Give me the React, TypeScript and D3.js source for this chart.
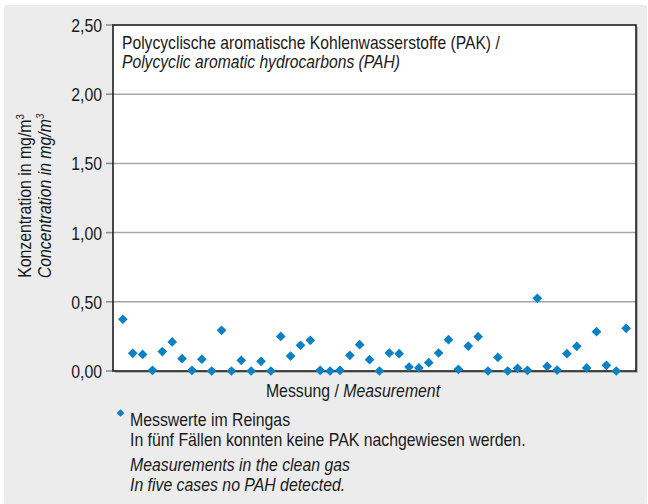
import React from "react";
import * as d3 from "d3";

const measurementValues: number[] = [
  0.374, 0.128, 0.12, 0.005, 0.14, 0.21, 0.089, 0.005, 0.085, 0.0, 0.294, 0.0, 0.077,
  0.0, 0.07, 0.0, 0.25, 0.108, 0.186, 0.222, 0.005, 0.0, 0.005, 0.113, 0.19, 0.082,
  0.0, 0.13, 0.125, 0.029, 0.022, 0.06, 0.13, 0.226, 0.012, 0.18, 0.248, 0.0, 0.099,
  0.0, 0.019, 0.005, 0.525, 0.034, 0.007, 0.125, 0.178, 0.022, 0.284, 0.041, 0.0, 0.308,
];
const yTicks: number[] = [0, 0.5, 1.0, 1.5, 2.0, 2.5];
const titleLines: string[] = [
  "Polycyclische aromatische Kohlenwasserstoffe (PAK) /",
  "Polycyclic aromatic hydrocarbons (PAH)",
];
const yTitleLines: string[] = ["Konzentration in mg/m", "Concentration in mg/m"];
const xTitleDe = "Messung / ";
const xTitleEn = "Measurement";
const legendLines: string[] = [
  "Messwerte im Reingas",
  "In fünf Fällen konnten keine PAK nachgewiesen werden.",
  "Measurements in the clean gas",
  "In five cases no PAH detected.",
];

const W = 648;
const H = 504;
const FONT = "'Liberation Sans', Arial, sans-serif";
const SX = 0.88; // condensed look
const BLUE = "#0b80c3";
const INK = "#1a1a1a";

const locale = d3.formatLocale({ decimal: ",", thousands: ".", grouping: [3], currency: ["", "€"] });
const fmt = locale.format(".2f");

function NText(props: {
  x: number; y: number; rotate?: number; size: number; anchor?: string; italic?: boolean; children: React.ReactNode;
}) {
  const { x, y, rotate = 0, size, anchor = "start", italic = false, children } = props;
  return (
    <g transform={`translate(${x},${y}) rotate(${rotate}) scale(${SX},1)`}>
      <text x={0} y={0} fontSize={size} textAnchor={anchor} fill={INK} fontStyle={italic ? "italic" : "normal"}>
        {children}
      </text>
    </g>
  );
}

export default function App() {
  const left = 113, right = 636, top = 25, bottom = 371;
  const x = d3.scaleLinear().domain([0, measurementValues.length + 1]).range([left, right]);
  const y = d3.scaleLinear().domain([0, 2.5]).range([bottom, top]);
  const diamond = d3.symbol().type(d3.symbolDiamond2).size(60)();
  const legendDiamond = d3.symbol().type(d3.symbolDiamond2).size(36)();

  return (
    <svg width={W} height={H} style={{ position: "absolute", left: 0, top: 0 }} fontFamily={FONT}>
      <rect x={0} y={0} width={W} height={H} fill="#ffffff" />
      <rect x={4} y={5} width={643} height={499} fill="#ebeceb" rx={2} />
      <rect x={left + 2} y={top + 2} width={right - left} height={bottom - top} fill="#b8b8b8" />
      <rect x={left} y={top} width={right - left} height={bottom - top} fill="#ffffff" />
      {yTicks.filter(t => t > 0 && t < 2.5).map(t => (
        <line key={"g" + t} x1={left} x2={right} y1={y(t)} y2={y(t)} stroke="#a6a6a6" strokeWidth={1.5} />
      ))}
      {yTicks.map(t => (
        <g key={"t" + t}>
          <line x1={left - 7} x2={left} y1={y(t)} y2={y(t)} stroke="#8c8c8c" strokeWidth={1.5} />
          <NText x={left - 11} y={y(t) + 7} size={18} anchor="end">{fmt(t)}</NText>
        </g>
      ))}
      <rect x={left} y={top} width={right - left} height={bottom - top} fill="none" stroke="#111" strokeWidth={1.5} />
      {titleLines.map((s, i) => (
        <NText key={s} x={122} y={49 + i * 19} size={17.8} italic={i === 1}>{s}</NText>
      ))}
      {measurementValues.map((v, i) => (
        <path key={i} d={diamond} transform={`translate(${x(i + 1)},${y(v)})`} fill={BLUE} />
      ))}
      {yTitleLines.map((s, i) => (
        <NText key={s} x={31 + i * 20} y={196} rotate={-90} size={18} anchor="middle" italic={i === 1}>
          {s}<tspan dy={-7} fontSize={11}>3</tspan>
        </NText>
      ))}
      <NText x={353} y={397} size={18} anchor="middle">
        {xTitleDe}<tspan fontStyle="italic">{xTitleEn}</tspan>
      </NText>
      <path d={legendDiamond} transform="translate(120.5,413)" fill={BLUE} />
      {legendLines.map((s, i) => (
        <NText key={s} x={130} y={[426, 446, 471, 491][i]} size={18} italic={i >= 2}>{s}</NText>
      ))}
    </svg>
  );
}
